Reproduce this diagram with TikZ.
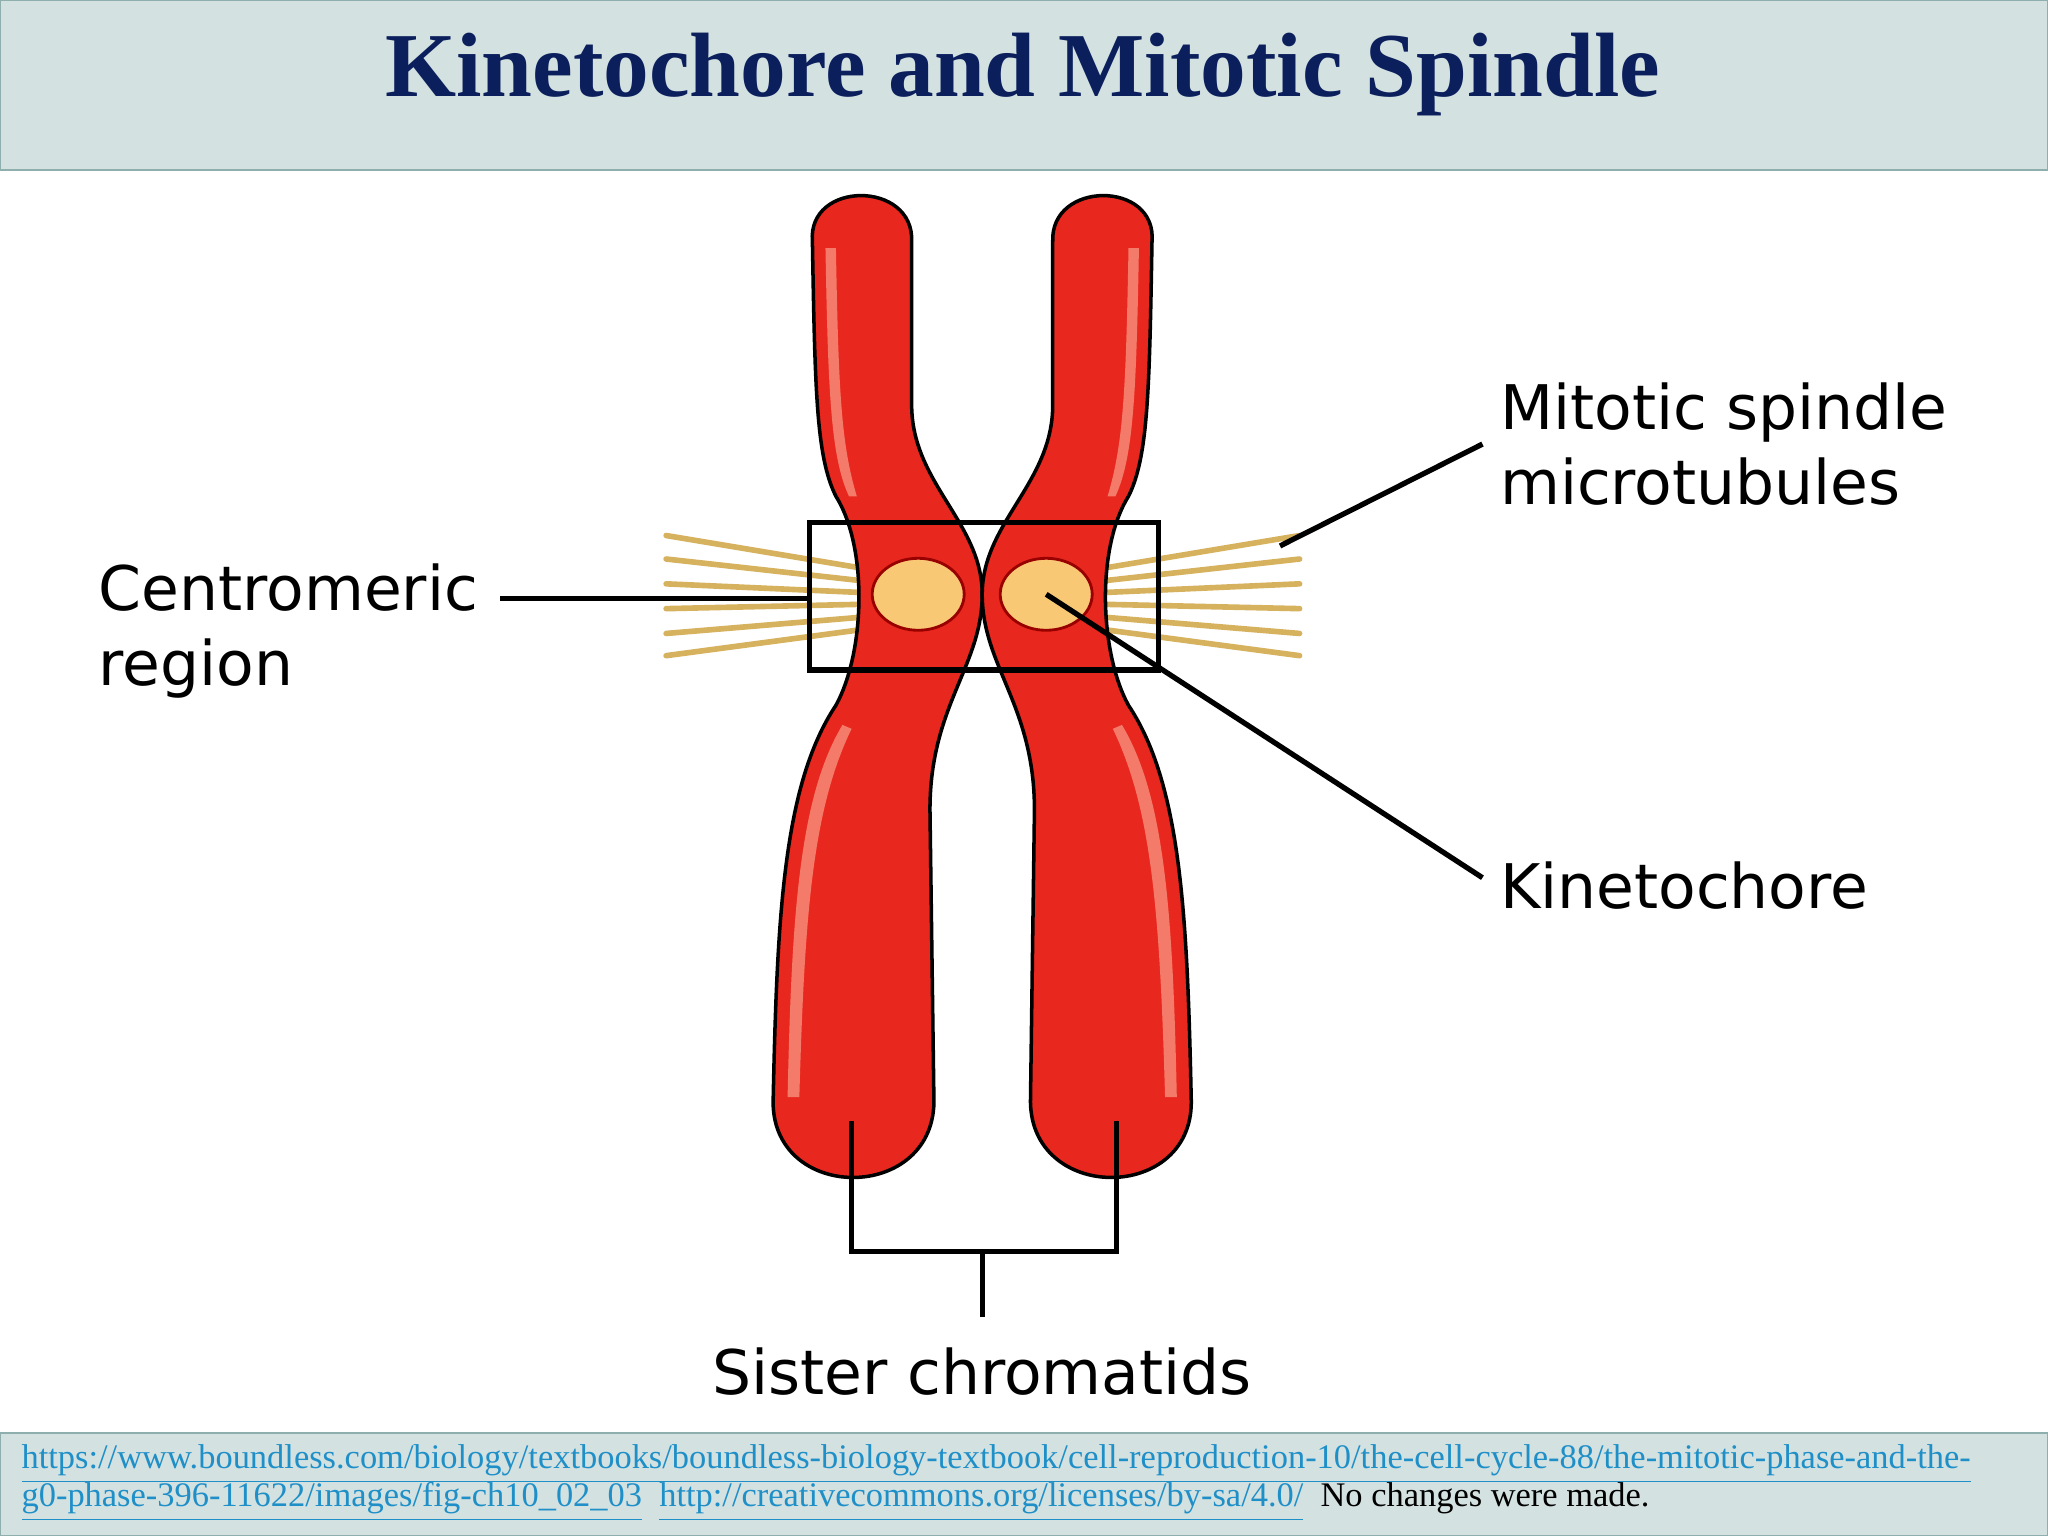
\documentclass[tikz,border=0pt]{standalone}
\usepackage{fontspec}
\usetikzlibrary{shapes.geometric}
\setmainfont{Liberation Serif}
\newfontfamily\lblfont{DejaVu Sans}
\definecolor{bandbg}{HTML}{D3E1E1}
\definecolor{bandline}{HTML}{8FAFAF}
\definecolor{navy}{HTML}{0B1F5C}
\definecolor{chromred}{HTML}{E8281E}
\definecolor{chromlight}{HTML}{F47A6A}
\definecolor{kinfill}{HTML}{F9C874}
\definecolor{fiber}{HTML}{D6B25E}
\definecolor{linkblue}{HTML}{1F8FC8}
\begin{document}
\begin{tikzpicture}[x=0.013061cm,y=-0.013061cm,
  lbl/.style={font=\lblfont\fontsize{17.5}{21.5}\selectfont,align=left,inner sep=0pt,anchor=west},
  conn/.style={line width=1.5pt,black},
  fib/.style={line width=1.6pt,fiber,line cap=round},
  kin/.style={ellipse,draw=red!60!black,line width=0.8pt,fill=kinfill,minimum width=0.92cm,minimum height=0.72cm,inner sep=0pt},
  band/.style={fill=bandbg,draw=bandline,line width=0.6pt}]
\useasboundingbox (0,0) rectangle (1568,1176);
\fill[white] (0,0) rectangle (1568,1176);
% header
\draw[band] (0,0) rectangle (1568,130);
\node[font=\bfseries\fontsize{26}{30}\selectfont,text=navy] (title) at (783,57) {Kinetochore and Mitotic Spindle};
% fibers
\foreach \y/\ye in {440/410,448/428,455/447,462/466,470/485,478/502}{
  \draw[fib] (690,\y) -- (510,\ye);
  \draw[fib] (815,\y) -- (995,\ye);
}
% chromatids
\def\chrom{(622,185) .. controls (618,138) and (700,138) .. (698,185)
 -- (698,310) .. controls (698,370) and (752,400) .. (752,455)
 .. controls (752,510) and (712,540) .. (712,620) -- (715,840)
 .. controls (718,922) and (588,922) .. (592,840)
 .. controls (595,700) and (600,600) .. (640,540)
 .. controls (662,500) and (665,420) .. (640,380)
 .. controls (625,350) and (624,300) .. (622,185) -- cycle}
\def\hl{(632,190) .. controls (634,300) and (636,350) .. (650,380)
 -- (656,380) .. controls (644,340) and (642,300) .. (640,190) -- cycle
 (603,840) .. controls (606,700) and (612,610) .. (645,555) -- (652,558)
 .. controls (622,620) and (616,700) .. (612,840) -- cycle}
\fill[chromred,draw=black,line width=1pt] \chrom;
\fill[chromlight] \hl;
\begin{scope}[shift={(1504,0)},xscale=-1]
\fill[chromred,draw=black,line width=1pt] \chrom;
\fill[chromlight] \hl;
\end{scope}
% kinetochores
\node[kin] (kL) at (703,455) {};
\node[kin] (kR) at (801,455) {};
% box
\draw[conn] (620,400) rectangle (887,513);
\coordinate (boxL) at (620,458);
\coordinate (fibR) at (980,418);
% labels
\node[lbl] (cen) at (75,483) {Centromeric\\region};
\node[lbl] (mit) at (1148,340) {Mitotic spindle\\microtubules};
\node[lbl] (kinlab) at (1148,678) {Kinetochore};
\node[font=\lblfont\fontsize{17.5}{21.5}\selectfont,inner sep=0pt] (sis) at (752,1050) {Sister chromatids};
\draw[conn] (383,458) -- (boxL);
\draw[conn] (mit.west) ++(-13,0) coordinate (mitend) -- (fibR);
\draw[conn] (kinlab.west) ++(-13,-6) coordinate (kinend) -- (kR.center);
% bracket
\coordinate (bl) at (652,858); \coordinate (br) at (855,858);
\coordinate (bm) at (752,958);
\draw[conn] (bl) |- (bm) -| (br);
\draw[conn] (bm) -- (sis.north |- 0,1008);
% footer
\draw[band] (0,1097) rectangle (1568,1176);
\node[anchor=west,inner sep=0pt,text=linkblue,font=\fontsize{9.8}{11}\selectfont] (l1) at (16,1121)
 {\underline{https://www.boundless.com/biology/textbooks/boundless-biology-textbook/cell-reproduction-10/the-cell-cycle-88/the-mitotic-phase-and-the-}};
\node[anchor=west,inner sep=0pt,font=\fontsize{9.8}{11}\selectfont] (l2) at (16,1150)
 {\textcolor{linkblue}{\underline{g0-phase-396-11622/images/fig-ch10\_02\_03}}\enspace
  \textcolor{linkblue}{\underline{http://creativecommons.org/licenses/by-sa/4.0/}}\enspace No changes were made.};
\end{tikzpicture}
\end{document}
